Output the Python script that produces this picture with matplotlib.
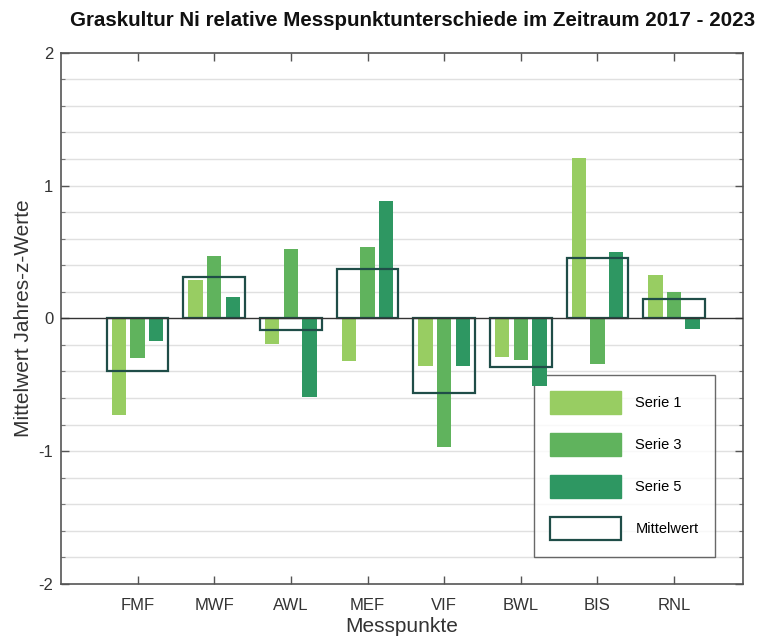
import numpy as np
import matplotlib
matplotlib.use("Agg")
import matplotlib.pyplot as plt
from matplotlib.patches import Patch
from matplotlib.ticker import MultipleLocator

plt.rcParams['font.family'] = ['Liberation Sans', 'DejaVu Sans']

categories = ["FMF", "MWF", "AWL", "MEF", "VIF", "BWL", "BIS", "RNL"]
serie1 = [-0.73, 0.29, -0.19, -0.32, -0.36, -0.29, 1.21, 0.33]
serie3 = [-0.30, 0.47, 0.52, 0.54, -0.97, -0.31, -0.34, 0.20]
serie5 = [-0.17, 0.16, -0.59, 0.88, -0.36, -0.51, 0.50, -0.08]
mittelwert = [-0.40, 0.31, -0.085, 0.37, -0.565, -0.367, 0.455, 0.148]
series_names = ["Serie 1", "Serie 3", "Serie 5"]
colors = ["#98cd62", "#60b35d", "#2e9762"]
box_color = "#1f4d48"

fig = plt.figure(figsize=(7.6, 6.39), dpi=100)
ax = fig.add_axes([0.0803, 0.0861, 0.8973, 0.8314])

x = np.arange(1, len(categories) + 1)
offsets = [-0.243, 0.0, 0.243]
bw = 0.187
for vals, off, c, nm in zip([serie1, serie3, serie5], offsets, colors, series_names):
    ax.bar(x + off, vals, width=bw, color=c, zorder=3, label=nm)

ax.bar(x, mittelwert, width=0.805, facecolor="none", edgecolor=box_color,
       linewidth=1.6, zorder=4)

ax.set_xlim(0, 8.9)
ax.set_ylim(-2, 2)
ax.set_xticks(x)
ax.set_xticklabels(categories, fontsize=12, color="#333333")
ax.set_yticks([-2, -1, 0, 1, 2])
ax.set_yticklabels(["-2", "-1", "0", "1", "2"], fontsize=12, color="#333333")
ax.yaxis.set_minor_locator(MultipleLocator(0.2))
ax.tick_params(axis="x", which="major", direction="in", length=6, width=1,
               color="#555555", top=True, bottom=True, pad=10)
ax.tick_params(axis="y", which="major", direction="in", length=6, width=1,
               color="#555555", left=True, right=True, pad=5.5)
ax.tick_params(axis="y", which="minor", direction="in", length=3, width=0.8,
               color="#777777", left=True, right=True)
ax.tick_params(axis="x", which="minor", bottom=False, top=False)

for yv in np.arange(-1.8, 2.0, 0.2):
    if abs(yv) < 1e-9:
        continue
    ax.axhline(yv, color="#e0e0e0", linewidth=1.0, zorder=0.5)
ax.axhline(0, color="#333333", linewidth=1.0, zorder=5)

for s in ax.spines.values():
    s.set_color("#555555")
    s.set_linewidth(1.2)

ax.set_xlabel("Messpunkte", fontsize=15, color="#333333", labelpad=3)
ax.set_ylabel("Mittelwert Jahres-z-Werte", fontsize=15, color="#333333", labelpad=4)

fig.text(413 / 760, 1 - 20 / 639, "Graskultur Ni relative Messpunktunterschiede im Zeitraum 2017 - 2023",
         ha="center", va="center", fontsize=14.8, fontweight="bold", color="#111111")

handles = [Patch(facecolor=c, edgecolor=c) for c in colors]
handles.append(Patch(facecolor="white", edgecolor=box_color, linewidth=1.6))
labels = series_names + ["Mittelwert"]
leg = ax.legend(handles, labels, loc="lower right", bbox_to_anchor=(715 / 760, (639 - 556.7) / 639),
                bbox_transform=fig.transFigure, frameon=True, fancybox=False,
                handlelength=4.87, handleheight=2.05, labelspacing=1.30, borderpad=1.13,
                handletextpad=0.96, fontsize=10.5, borderaxespad=0)
leg.get_frame().set_edgecolor("#444444")
leg.get_frame().set_linewidth(1.0)
leg.set_zorder(2)

fig.savefig("out.png", dpi=100)
